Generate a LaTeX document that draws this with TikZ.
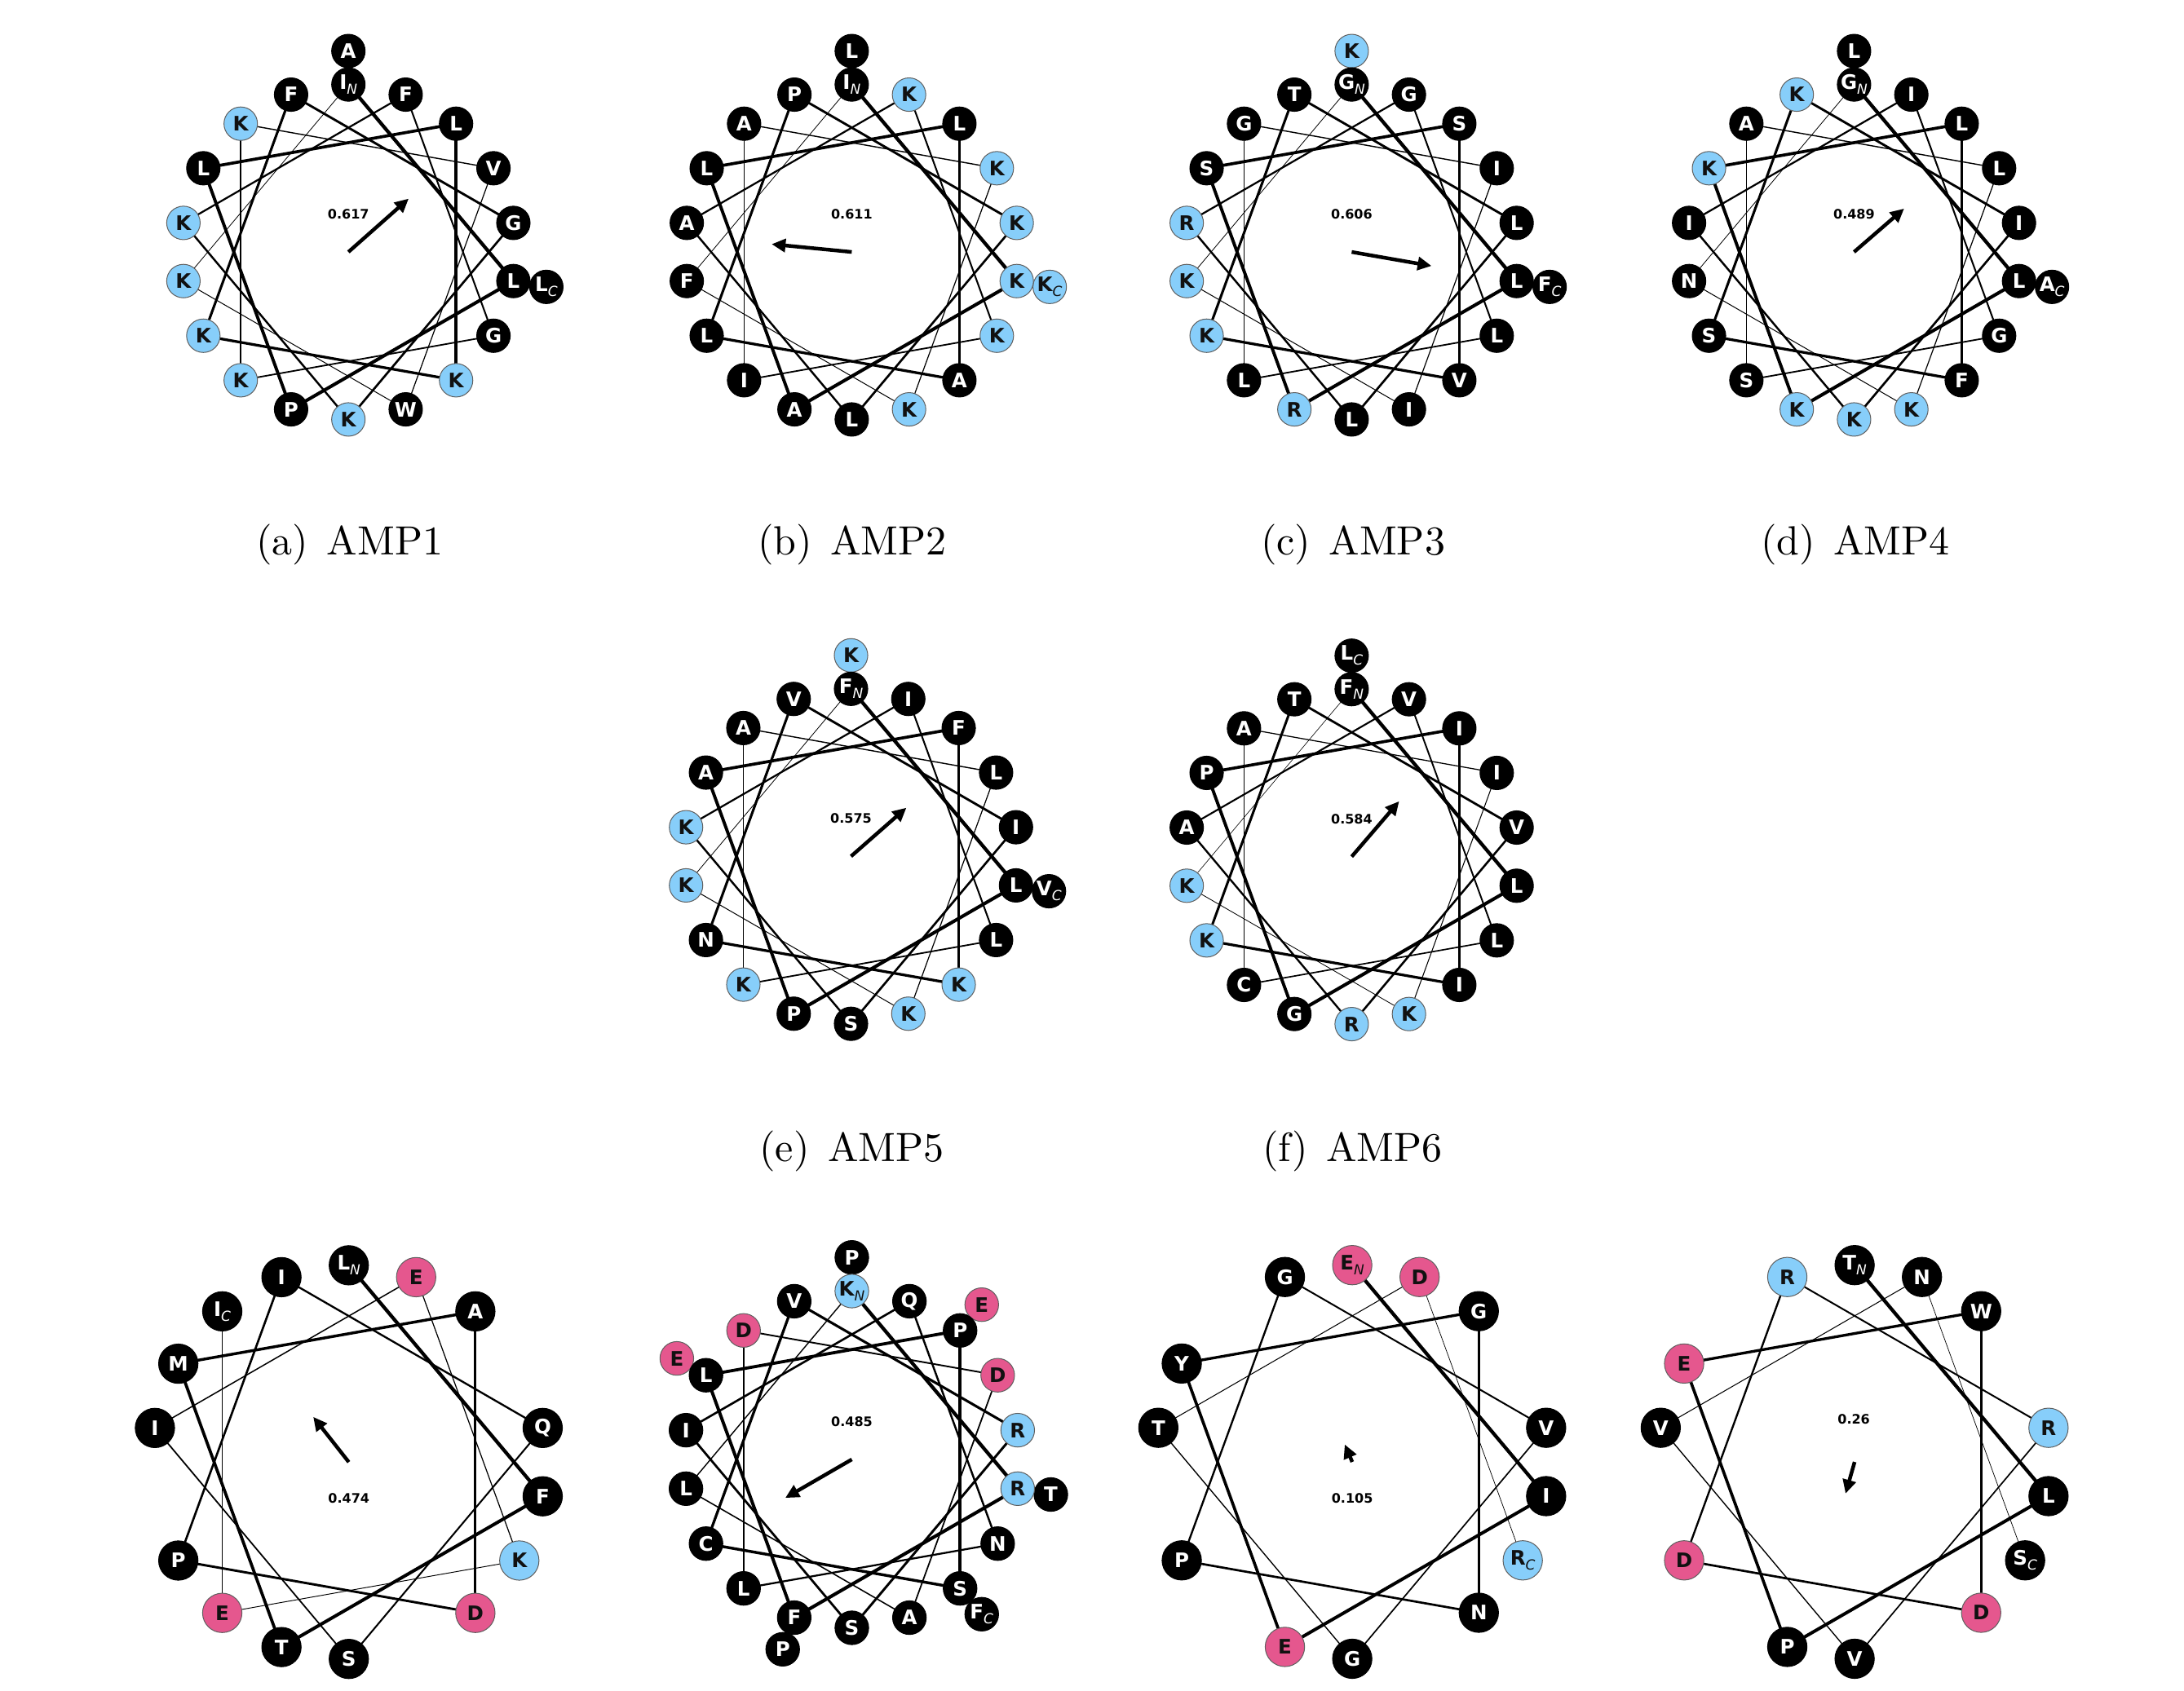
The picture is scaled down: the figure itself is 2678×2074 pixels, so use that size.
\documentclass[tikz,border=0pt]{standalone}
\usepackage{fontspec}
\newfontfamily\dvs{DejaVu Sans}
\usetikzlibrary{arrows.meta}
\pgfdeclarelayer{lines}
\pgfdeclarelayer{outer}
\pgfsetlayers{lines,outer,main}

\definecolor{fillk}{RGB}{0,0,0}
\definecolor{textk}{RGB}{255,255,255}
\definecolor{edgek}{RGB}{0,0,0}
\definecolor{fillb}{RGB}{135,206,250}
\definecolor{textb}{RGB}{17,17,17}
\definecolor{edgeb}{RGB}{95,95,95}
\definecolor{fillp}{RGB}{229,87,142}
\definecolor{textp}{RGB}{17,17,17}
\definecolor{edgep}{RGB}{95,95,95}

\def\hwsetcol#1#2{\expandafter\def\csname hwrc-#1\endcsname{#2}}
\hwsetcol{K}{b}\hwsetcol{R}{b}\hwsetcol{H}{b}\hwsetcol{D}{p}\hwsetcol{E}{p}

\tikzset{
  resnode/.style={circle, inner sep=0pt, outer sep=0pt, line width=0.2pt,
    font=\dvs\bfseries\fontsize{4.9}{4.9}\selectfont},
  momarrow/.style={line width=0.9pt, -{Triangle[length=3.4pt,width=3.2pt]}},
  momlabel/.style={font=\dvs\bfseries\fontsize{3.2}{3.2}\selectfont, inner sep=0pt},
  captext/.style={font=\fontsize{10}{12}\selectfont, inner sep=0pt, anchor=base},
}

\def\hwlabel{\hwL\ifx\hwsub\empty\else\hbox{\mdseries\itshape\fontsize{3.4}{3.4}\selectfont\raisebox{-1.2pt}{\hwsub}}\fi}

% #1 name, #2 cx, #3 cy, #4 R, #5 n, #6 residues
\newcommand{\hwheel}[6]{%
  \coordinate (#1) at (#2,#3);
  \pgfmathsetmacro\hwR{#4}%
  \pgfmathsetmacro\hwRo{1.2*#4}%
  \pgfmathsetmacro\hwD{0.04*#4}%
  \pgfmathtruncatemacro\hwlast{#5-1}%
  \foreach \hwL [count=\hwi from 0] in {#6} {%
    \pgfmathsetmacro\hwang{90-100*\hwi}%
    \ifnum\hwi<18 \let\hwrad\hwR \else \let\hwrad\hwRo \fi
    \pgfmathsetmacro\hwx{#2+\hwrad*cos(\hwang)}%
    \pgfmathsetmacro\hwy{#3+\hwrad*sin(\hwang)}%
    \edef\rc{\ifcsname hwrc-\hwL\endcsname\csname hwrc-\hwL\endcsname\else k\fi}%
    \edef\hwsub{\ifnum\hwi=0 N\else\ifnum\hwi=\hwlast C\fi\fi}%
    \ifnum\hwi<18
      \node[resnode, minimum size=\hwD pt, fill=fill\rc, draw=edge\rc, text=text\rc] (#1-\hwi) at (\hwx,\hwy) {\hwlabel};
    \else
      \begin{pgfonlayer}{outer}
      \node[resnode, minimum size=\hwD pt, fill=fill\rc, draw=edge\rc, text=text\rc] (#1-\hwi) at (\hwx,\hwy) {\hwlabel};
      \end{pgfonlayer}
    \fi
  }%
  \pgfmathtruncatemacro\hwnl{min(#5-1,18)-1}%
  \begin{pgfonlayer}{lines}
  \foreach \hwj in {0,...,\hwnl} {%
    \pgfmathtruncatemacro\hwk{mod(\hwj+1,18)}%
    \pgfmathsetmacro\hww{max(0.86-0.78*\hwj/(#5-1),0.12)}%
    \draw[line width=\hww pt] (#1-\hwj.center) -- (#1-\hwk.center);
  }%
  \end{pgfonlayer}
}

% #1 name, #2 dx, #3 dy, #4 label, #5 label dx, #6 label dy
\newcommand{\hmoment}[6]{%
  \coordinate (#1-m) at ([shift={(#2,#3)}]#1);
  \draw[momarrow] (#1) -- (#1-m);
  \node[momlabel] (#1-lab) at ([shift={(#5,#6)}]#1) {#4};
}

\begin{document}
\begin{tikzpicture}[x=0.2pt,y=0.2pt]
\useasboundingbox (0,0) rectangle (2678,2074);

% row 1
\hwheel{a}{427.2}{1764.9}{205.4}{20}{I,L,P,L,L,K,K,F,G,K,K,F,G,K,K,V,W,K,A,L}
\hmoment{a}{73.9}{65.4}{0.617}{0}{46.4}
\hwheel{b}{1044.4}{1764.9}{205.4}{20}{I,K,A,L,L,A,L,P,K,L,A,K,K,I,A,K,K,F,L,K}
\hmoment{b}{-98.2}{9.6}{0.611}{0}{46.4}
\hwheel{c}{1657.4}{1764.9}{205.4}{20}{G,L,R,S,S,V,K,T,L,L,R,G,L,L,G,I,I,K,K,F}
\hmoment{c}{97.9}{-17.1}{0.606}{0}{46.4}
\hwheel{d}{2273.4}{1764.9}{205.4}{20}{G,L,K,K,L,F,S,K,I,K,I,I,G,S,A,L,K,N,L,A}
\hmoment{d}{61.4}{53.2}{0.489}{0}{46.4}

\node[captext] (capa) at (428.7,1393) {(a)\hspace{4.5pt}AMP1};
\node[captext] (capb) at (1045,1393) {(b)\hspace{4.5pt}AMP2};
\node[captext] (capc) at (1659,1393) {(c)\hspace{4.5pt}AMP3};
\node[captext] (capd) at (2275,1393) {(d)\hspace{4.5pt}AMP4};

% row 2
\hwheel{e}{1043.5}{1023.7}{205.4}{20}{F,L,P,A,F,K,N,V,I,S,K,I,L,K,A,L,K,K,K,V}
\hmoment{e}{67.9}{59.6}{0.575}{0}{46.4}
\hwheel{f}{1657.4}{1023.3}{205.4}{19}{F,L,G,P,I,I,K,T,V,R,A,V,L,C,A,I,K,K,L}
\hmoment{f}{58.2}{67.9}{0.584}{0}{46.4}

\node[captext] (cape) at (1044.4,649.5) {(e)\hspace{4.5pt}AMP5};
\node[captext] (capf) at (1658.5,649.5) {(f)\hspace{4.5pt}AMP6};

% row 3
\hwheel{g}{427.7}{280.7}{241.4}{15}{L,F,T,M,A,D,P,I,Q,S,I,E,K,E,I}
\hmoment{g}{-43.6}{55.5}{0.474}{0}{-44.4}
\hwheel{h}{1044.5}{284}{206.5}{24}{K,R,F,L,P,S,C,V,R,S,I,Q,N,L,D,D,A,L,P,T,P,E,E,F}
\hmoment{h}{-81.6}{-47.2}{0.485}{0}{46.5}
\hwheel{i}{1658.1}{280.9}{241.4}{13}{E,I,E,Y,G,N,P,G,V,G,T,D,R}
\hmoment{i}{-9.2}{21.5}{0.105}{0}{-44.6}
\hwheel{j}{2274.1}{280.9}{241.4}{13}{T,L,P,E,W,D,D,R,R,V,V,N,S}
\hmoment{j}{-11.1}{-38.8}{0.26}{-1}{52.7}
\end{tikzpicture}
\end{document}
